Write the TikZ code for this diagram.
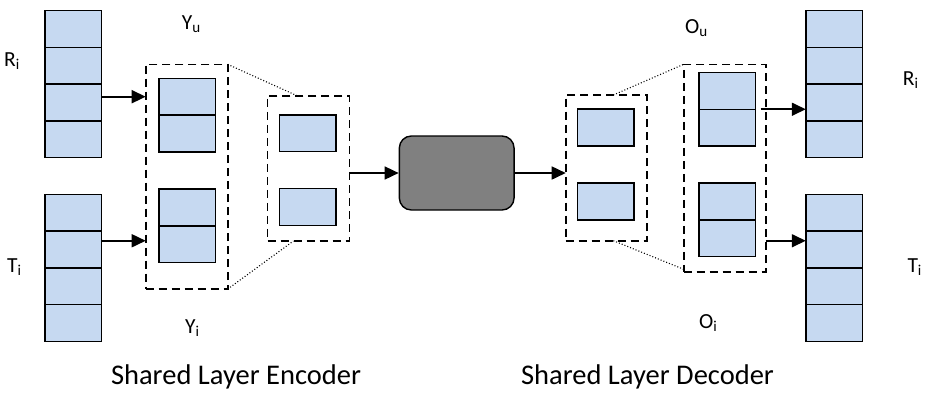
\documentclass[tikz,border=0pt]{standalone}
\usepackage{fontspec}
\setmainfont{Carlito}
\usetikzlibrary{positioning, arrows.meta}
\definecolor{cellblue}{HTML}{C6D9F1}
\definecolor{coregray}{HTML}{808080}

\begin{document}
\begin{tikzpicture}[
  x=1pt, y=-1pt,
  stackcell/.style={draw=black, line width=1.5pt, fill=cellblue, minimum width=56.5pt, minimum height=36.75pt, inner sep=0pt, outer sep=0pt},
  unit/.style={draw=black, line width=1.5pt, fill=cellblue, minimum width=56.5pt, minimum height=36.8pt, inner sep=0pt, outer sep=0pt},
  group/.style={draw=black, line width=1.6pt, dash pattern=on 8pt off 5pt, inner sep=0pt, outer sep=0pt},
  link/.style={line width=1.7pt, -{Triangle[length=14pt,width=13pt]}},
  zoomline/.style={line width=1.1pt, dash pattern=on 1pt off 2pt},
  lbl/.style={font=\fontsize{21.5}{26}\selectfont, inner sep=0pt, anchor=base west},
  caption/.style={font=\fontsize{28.5}{32}\selectfont, inner sep=0pt, anchor=base}
]
\useasboundingbox (0,0) rectangle (928,392);

\node[stackcell] (ri1) at (73.3,29.1) {};
\node[stackcell, below=0pt of ri1] (ri2) {};
\node[stackcell, below=0pt of ri2] (ri3) {};
\node[stackcell, below=0pt of ri3] (ri4) {};
\node[stackcell] (ti1) at (73.3,212.7) {};
\node[stackcell, below=0pt of ti1] (ti2) {};
\node[stackcell, below=0pt of ti2] (ti3) {};
\node[stackcell, below=0pt of ti3] (ti4) {};

\node[group, minimum width=82pt, minimum height=224.7pt] (e1) at (186.7,176.7) {};
\node[unit] (ya1) at (187.3,96.65) {};
\node[unit, below=0pt of ya1] (ya2) {};
\node[unit] (yb1) at (187.3,207.35) {};
\node[unit, below=0pt of yb1] (yb2) {};

\node[group, minimum width=81.8pt, minimum height=145.3pt] (e2) at (308.4,168.35) {};
\node[unit] (ha) at (307.7,133.3) {};
\node[unit] (hb) at (307.7,207) {};

\node[draw=black, line width=1.4pt, fill=coregray, rounded corners=12pt, minimum width=114.7pt, minimum height=74pt] (core) at (456.7,173) {};

\node[group, minimum width=81.3pt, minimum height=145.7pt] (d1) at (606.35,167.85) {};
\node[unit] (ga) at (605.5,127.5) {};
\node[unit] (gb) at (605.5,201.35) {};

\node[group, minimum width=82pt, minimum height=207.4pt] (d2) at (724.7,168) {};
\node[unit] (oa1) at (727.3,90.85) {};
\node[unit, below=0pt of oa1] (oa2) {};
\node[unit] (ob1) at (727.3,201.35) {};
\node[unit, below=0pt of ob1] (ob2) {};

\node[stackcell] (rr1) at (834,29.1) {};
\node[stackcell, below=0pt of rr1] (rr2) {};
\node[stackcell, below=0pt of rr2] (rr3) {};
\node[stackcell, below=0pt of rr3] (rr4) {};
\node[stackcell] (tr1) at (834,212.7) {};
\node[stackcell, below=0pt of tr1] (tr2) {};
\node[stackcell, below=0pt of tr2] (tr3) {};
\node[stackcell, below=0pt of tr3] (tr4) {};

\draw[link] ([yshift=5.9pt]ri3.east) -- ([yshift=5.9pt]ri3.east -| e1.west);
\draw[link] ([yshift=8.7pt]ti2.east) -- ([yshift=8.7pt]ti2.east -| e1.west);
\draw[link] (core.west -| e2.east) -- (core.west);
\draw[link] (core.east) -- (core.east -| d1.west);
\draw[link] ([xshift=5pt]oa1.south east) -- (oa1.south east -| rr3.west);
\draw[link] ([yshift=8.7pt]tr2.west -| d2.east) -- ([yshift=8.7pt]tr2.west);

\draw[zoomline] (e1.north east) -- ([xshift=-11.4pt]e2.north);
\draw[zoomline] (e1.south east) -- ([xshift=-15pt]e2.south);
\draw[zoomline] ([xshift=7pt]d1.north) -- (d2.north west);
\draw[zoomline] ([xshift=7pt]d1.south) -- ([yshift=2.4pt]d2.south west);

\node[lbl] (rl) at (4,66) {R\textsubscript{i}};
\node[lbl] (tl) at (7,272) {T\textsubscript{i}};
\node[lbl] (yu) at (181.7,29.3) {Y\textsubscript{u}};
\node[lbl] (yi) at (185,333) {Y\textsubscript{i}};
\node[lbl] (ou) at (685,33) {O\textsubscript{u}};
\node[lbl] (oi) at (699,328) {O\textsubscript{i}};
\node[lbl] (rr) at (902.7,85) {R\textsubscript{i}};
\node[lbl] (tr) at (907.3,272.7) {T\textsubscript{i}};

\node[caption] (enc) at (236,384.5) {Shared Layer Encoder};
\node[caption] (dec) at (647.5,384.5) {Shared Layer Decoder};
\end{tikzpicture}
\end{document}
